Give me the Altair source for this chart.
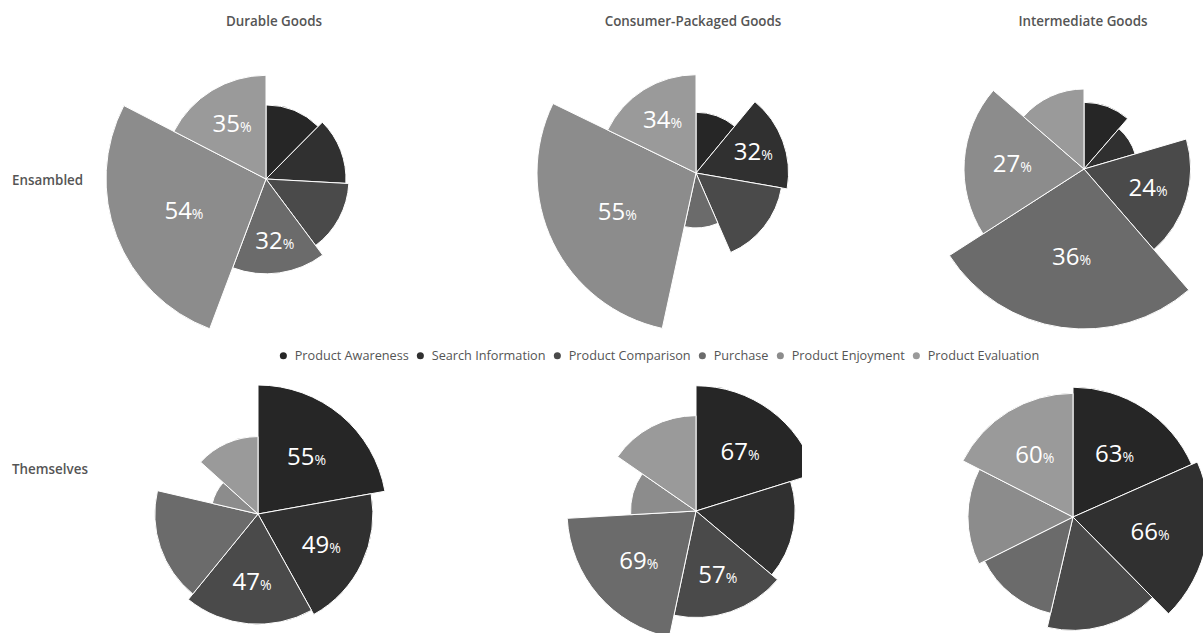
import altair as alt
import pandas as pd

# ---------------- data ----------------
categories = ["Product Awareness", "Search Information", "Product Comparison",
              "Purchase", "Product Enjoyment", "Product Evaluation"]
goods = ["Durable Goods", "Consumer-Packaged Goods", "Intermediate Goods"]
groups = ["Ensambled", "Themselves"]

ensambled_durable = [25, 27, 28, 32, 54, 35]
ensambled_consumer = [21, 32, 30, 19, 55, 34]
ensambled_intermediate = [15, 12, 24, 36, 27, 18]
themselves_durable = [55, 49, 47, 44, 20, 33]
themselves_consumer = [67, 53, 57, 69, 35, 51]
themselves_intermediate = [63, 66, 55, 48, 51, 60]

colors = ["#262626", "#303030", "#4a4a4a", "#6b6b6b", "#8c8c8c", "#9a9a9a"]

# ---------------- layout / style ----------------
FONT = "Open Sans"
TEXT_GREY = "#555555"
PANEL_W = 401
ROW1_H = 370   # includes the legend band
ROW2_H = 263
centers_row1 = [(266, 179), (295, 173), (282, 169)]
centers_row2 = [(258, 144), (295, 141), (271, 147)]
max_radius_row1 = [160, 159, 160]
max_radius_row2 = [129, 129, 136]
title_x = [274, 292, 281]

color_scale = alt.Scale(domain=categories, range=colors)

legend_def = alt.Legend(orient="none", direction="horizontal", legendX=277, legendY=349,
                        title=None, symbolType="circle", symbolSize=50, symbolStrokeWidth=0,
                        symbolOpacity=1,
                        labelFont=FONT, labelFontSize=12.7, labelColor=TEXT_GREY,
                        labelOffset=5, columnPadding=5, padding=0, labelLimit=0)


def panel(values, center, rmax, height, title=None, tx=None, row_label=None, row_y=None,
          legend=None):
    cx, cy = center
    df = pd.DataFrame({"category": categories, "idx": list(range(len(categories))), "value": values})
    base = alt.Chart(df)
    theta = alt.Theta("value:Q", stack=True)
    order = alt.Order("idx:Q", sort="ascending")

    arcs = base.mark_arc(stroke="white", strokeWidth=1, clip=True).encode(
        theta=theta,
        radius=alt.Radius("value:Q", scale=alt.Scale(type="linear", zero=True, nice=False, range=[0, rmax])),
        color=alt.Color("category:N", scale=color_scale, legend=legend),
        order=order,
        x=alt.value(cx),
        y=alt.value(cy),
    )

    lab = base.transform_window(
        rk="rank()", sort=[alt.SortField("value", order="descending")]
    ).transform_calculate(
        num="datum.rk <= 3 ? format(datum.value, 'd') : ''",
        pct="datum.rk <= 3 ? '%' : ''",
    )

    def rscale():
        return alt.Scale(type="linear", zero=True, nice=False, range=[24, 24 + 0.4 * rmax])

    num = lab.mark_text(font=FONT, fontSize=24, color="white", align="right",
                        baseline="alphabetic", dx=8, dy=8.5).encode(
        theta=theta,
        radius=alt.Radius("value:Q", scale=rscale()),
        order=order,
        text="num:N",
        x=alt.value(cx),
        y=alt.value(cy),
    )
    pct = lab.mark_text(font=FONT, fontSize=14, color="white", align="left",
                        baseline="alphabetic", dx=8, dy=8.5).encode(
        theta=theta,
        radius=alt.Radius("value:Q", scale=rscale()),
        order=order,
        text="pct:N",
        x=alt.value(cx),
        y=alt.value(cy),
    )

    layers = [arcs, num, pct]
    if title is not None:
        layers.append(
            alt.Chart(pd.DataFrame({"t": [title]})).mark_text(
                font=FONT, fontSize=13.4, fontWeight=600, color=TEXT_GREY,
                align="center", baseline="middle"
            ).encode(text="t:N", x=alt.value(tx), y=alt.value(22))
        )
    if row_label is not None:
        layers.append(
            alt.Chart(pd.DataFrame({"t": [row_label]})).mark_text(
                font=FONT, fontSize=13.4, fontWeight=600, color=TEXT_GREY,
                align="left", baseline="middle"
            ).encode(text="t:N", x=alt.value(12), y=alt.value(row_y))
        )
    return alt.layer(*layers).resolve_scale(radius="independent").properties(
        width=PANEL_W, height=height
    )


row1_values = [ensambled_durable, ensambled_consumer, ensambled_intermediate]
row2_values = [themselves_durable, themselves_consumer, themselves_intermediate]

panels = []
for i in range(3):
    panels.append(panel(row1_values[i], centers_row1[i], max_radius_row1[i], ROW1_H,
                        title=goods[i], tx=title_x[i],
                        row_label=groups[0] if i == 0 else None, row_y=181,
                        legend=legend_def if i == 0 else None))
for i in range(3):
    panels.append(panel(row2_values[i], centers_row2[i], max_radius_row2[i], ROW2_H,
                        row_label=groups[1] if i == 0 else None, row_y=100))

chart = alt.concat(*panels, columns=3, spacing=0, bounds="flush").resolve_scale(
    theta="independent", radius="independent", color="independent"
).resolve_legend(color="independent").properties(
    padding=0
).configure_view(stroke=None)

chart.save("out.html", embed_options={"renderer": "svg", "actions": False})
